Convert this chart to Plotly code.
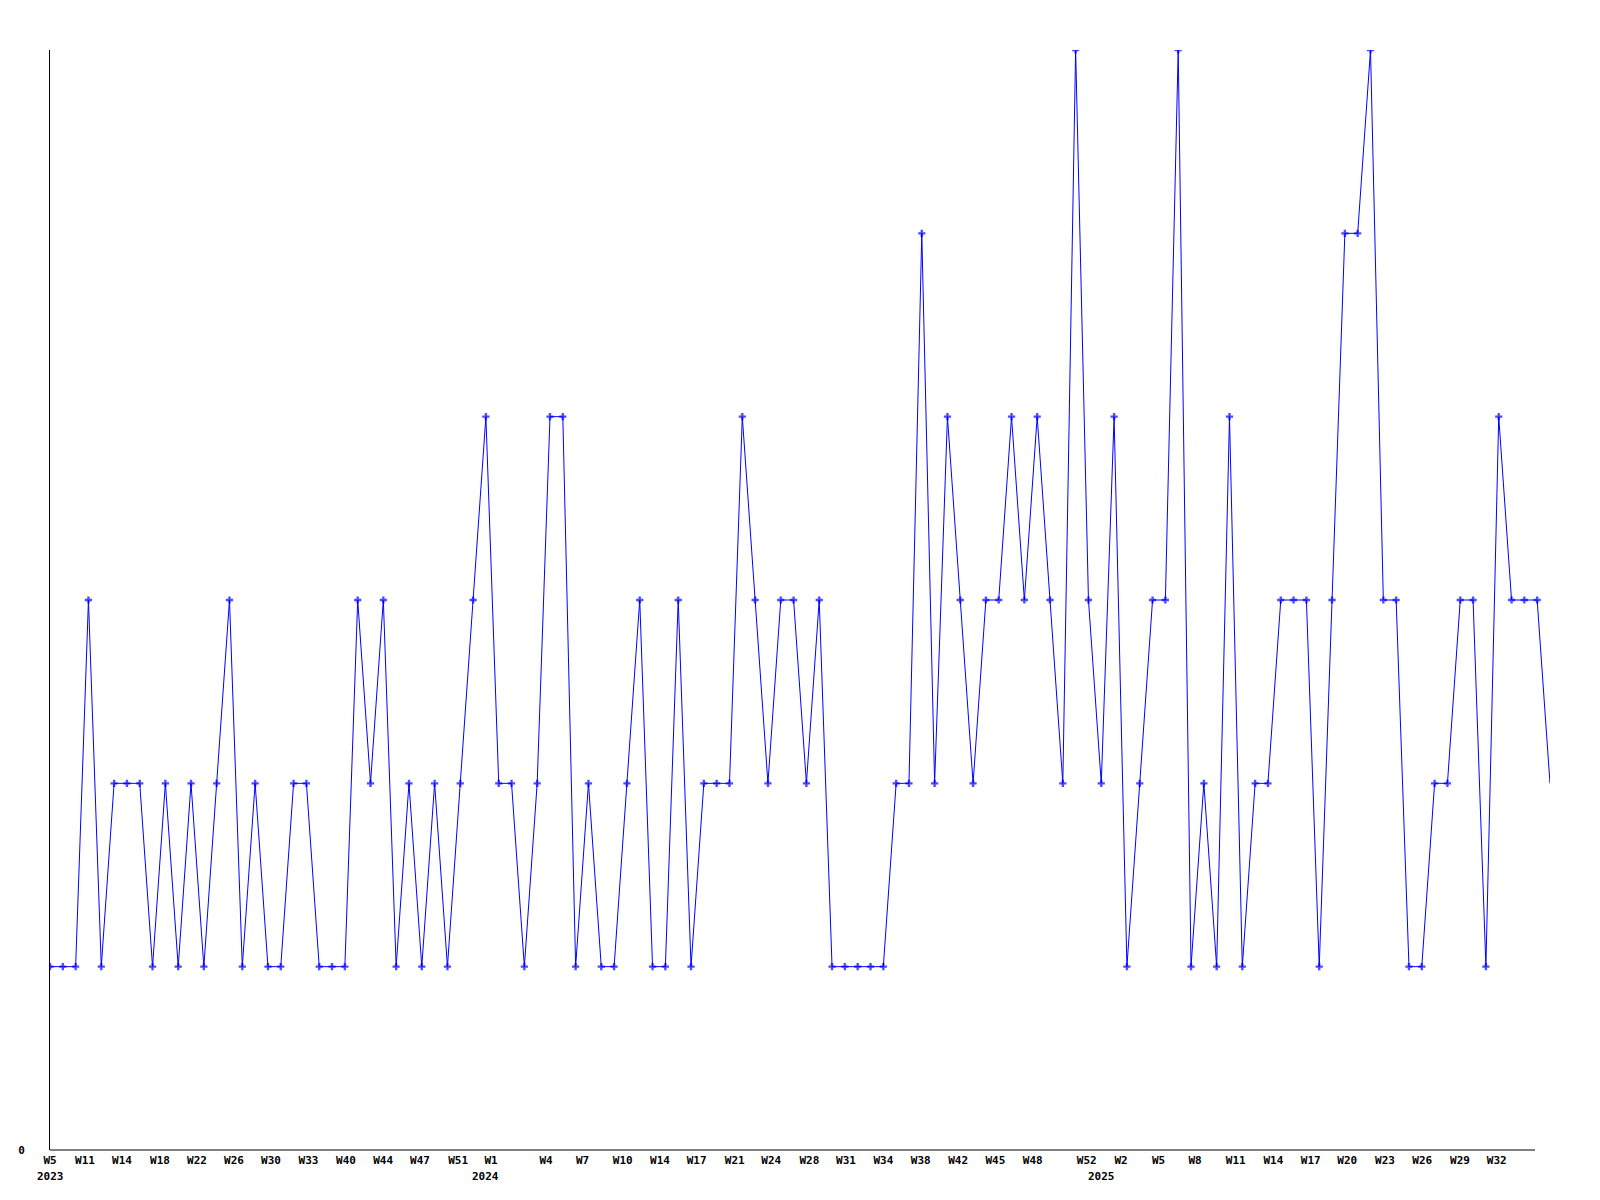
import plotly.graph_objects as go

# ---- data ----
values = [1, 1, 1, 3, 1, 2, 2, 2, 1, 2,
          1, 2, 1, 2, 3, 1, 2, 1, 1, 2,
          2, 1, 1, 1, 3, 2, 3, 1, 2, 1,
          2, 1, 2, 3, 4, 2, 2, 1, 2, 4,
          4, 1, 2, 1, 1, 2, 3, 1, 1, 3,
          1, 2, 2, 2, 4, 3, 2, 3, 3, 2,
          3, 1, 1, 1, 1, 1, 2, 2, 5, 2,
          4, 3, 2, 3, 3, 4, 3, 4, 3, 2,
          6, 3, 2, 4, 1, 2, 3, 3, 6, 1,
          2, 1, 4, 1, 2, 2, 3, 3, 3, 1,
          3, 5, 5, 6, 3, 3, 1, 1, 2, 2,
          3, 3, 1, 4, 3, 3, 3, 2]
point_index = list(range(len(values)))

week_labels = ["W5", "W11", "W14", "W18", "W22", "W26", "W30", "W33", "W40", "W44", "W47", "W51",
               "W1", "W4", "W7", "W10", "W14", "W17", "W21", "W24", "W28", "W31", "W34", "W38",
               "W42", "W45", "W48", "W52",
               "W2", "W5", "W8", "W11", "W14", "W17", "W20", "W23", "W26", "W29", "W32"]
week_label_pos = [0.0, 2.73, 5.62, 8.58, 11.47, 14.35, 17.24, 20.16, 23.09, 25.98, 28.86, 31.83,
                  34.4, 38.69, 41.54, 44.67, 47.58, 50.44, 53.41, 56.26, 59.23, 62.09, 65.0, 67.92,
                  70.83, 73.74, 76.65, 80.87,
                  83.54, 86.47, 89.31, 92.49, 95.42, 98.34, 101.19, 104.13, 107.04, 109.98, 112.85]
year_labels = ["2023", "2024", "2025"]
year_start_index = [0, 34, 82]

# ---- figure ----
marker_sizes = [6] * (len(values) - 1) + [0]

fig = go.Figure()
fig.add_trace(go.Scatter(
    x=point_index, y=values, mode="lines+markers",
    line=dict(color="#0000FF", width=1),
    marker=dict(symbol="cross", size=marker_sizes, color="#0000FF", line=dict(width=0)),
    hoverinfo="x+y", showlegend=False,
))

font_family = "DejaVu Sans Mono"
for yl, xi in zip(year_labels, year_start_index):
    fig.add_annotation(x=xi, y=-0.0245, xref="x", yref="paper", text=yl, showarrow=False,
                       xanchor="center", yanchor="middle",
                       font=dict(family=font_family, size=11, color="black", weight="bold"))

fig.add_shape(type="line", xref="paper", yref="paper", x0=0, x1=0.99, y0=0, y1=0,
              line=dict(color="black", width=1))

fig.update_layout(
    width=1600, height=1200,
    margin=dict(l=50, r=50, t=50, b=50, autoexpand=False),
    plot_bgcolor="white", paper_bgcolor="white",
    xaxis=dict(range=[0, 117], showgrid=False, zeroline=False, showline=False,
               tickmode="array", tickvals=week_label_pos, ticktext=week_labels,
               ticks="", ticklabelstandoff=2,
               tickfont=dict(family=font_family, size=11, color="black", weight="bold")),
    yaxis=dict(range=[0, 6], showgrid=False, zeroline=False, showline=True,
               linecolor="black", linewidth=1,
               tickmode="array", tickvals=[0], ticktext=["0"], ticks="",
               ticklabelstandoff=22,
               tickfont=dict(family=font_family, size=11, color="black", weight="bold")),
)

fig.write_html("out.html", config={"displayModeBar": False},
               post_script="document.body.style.margin='0';")
